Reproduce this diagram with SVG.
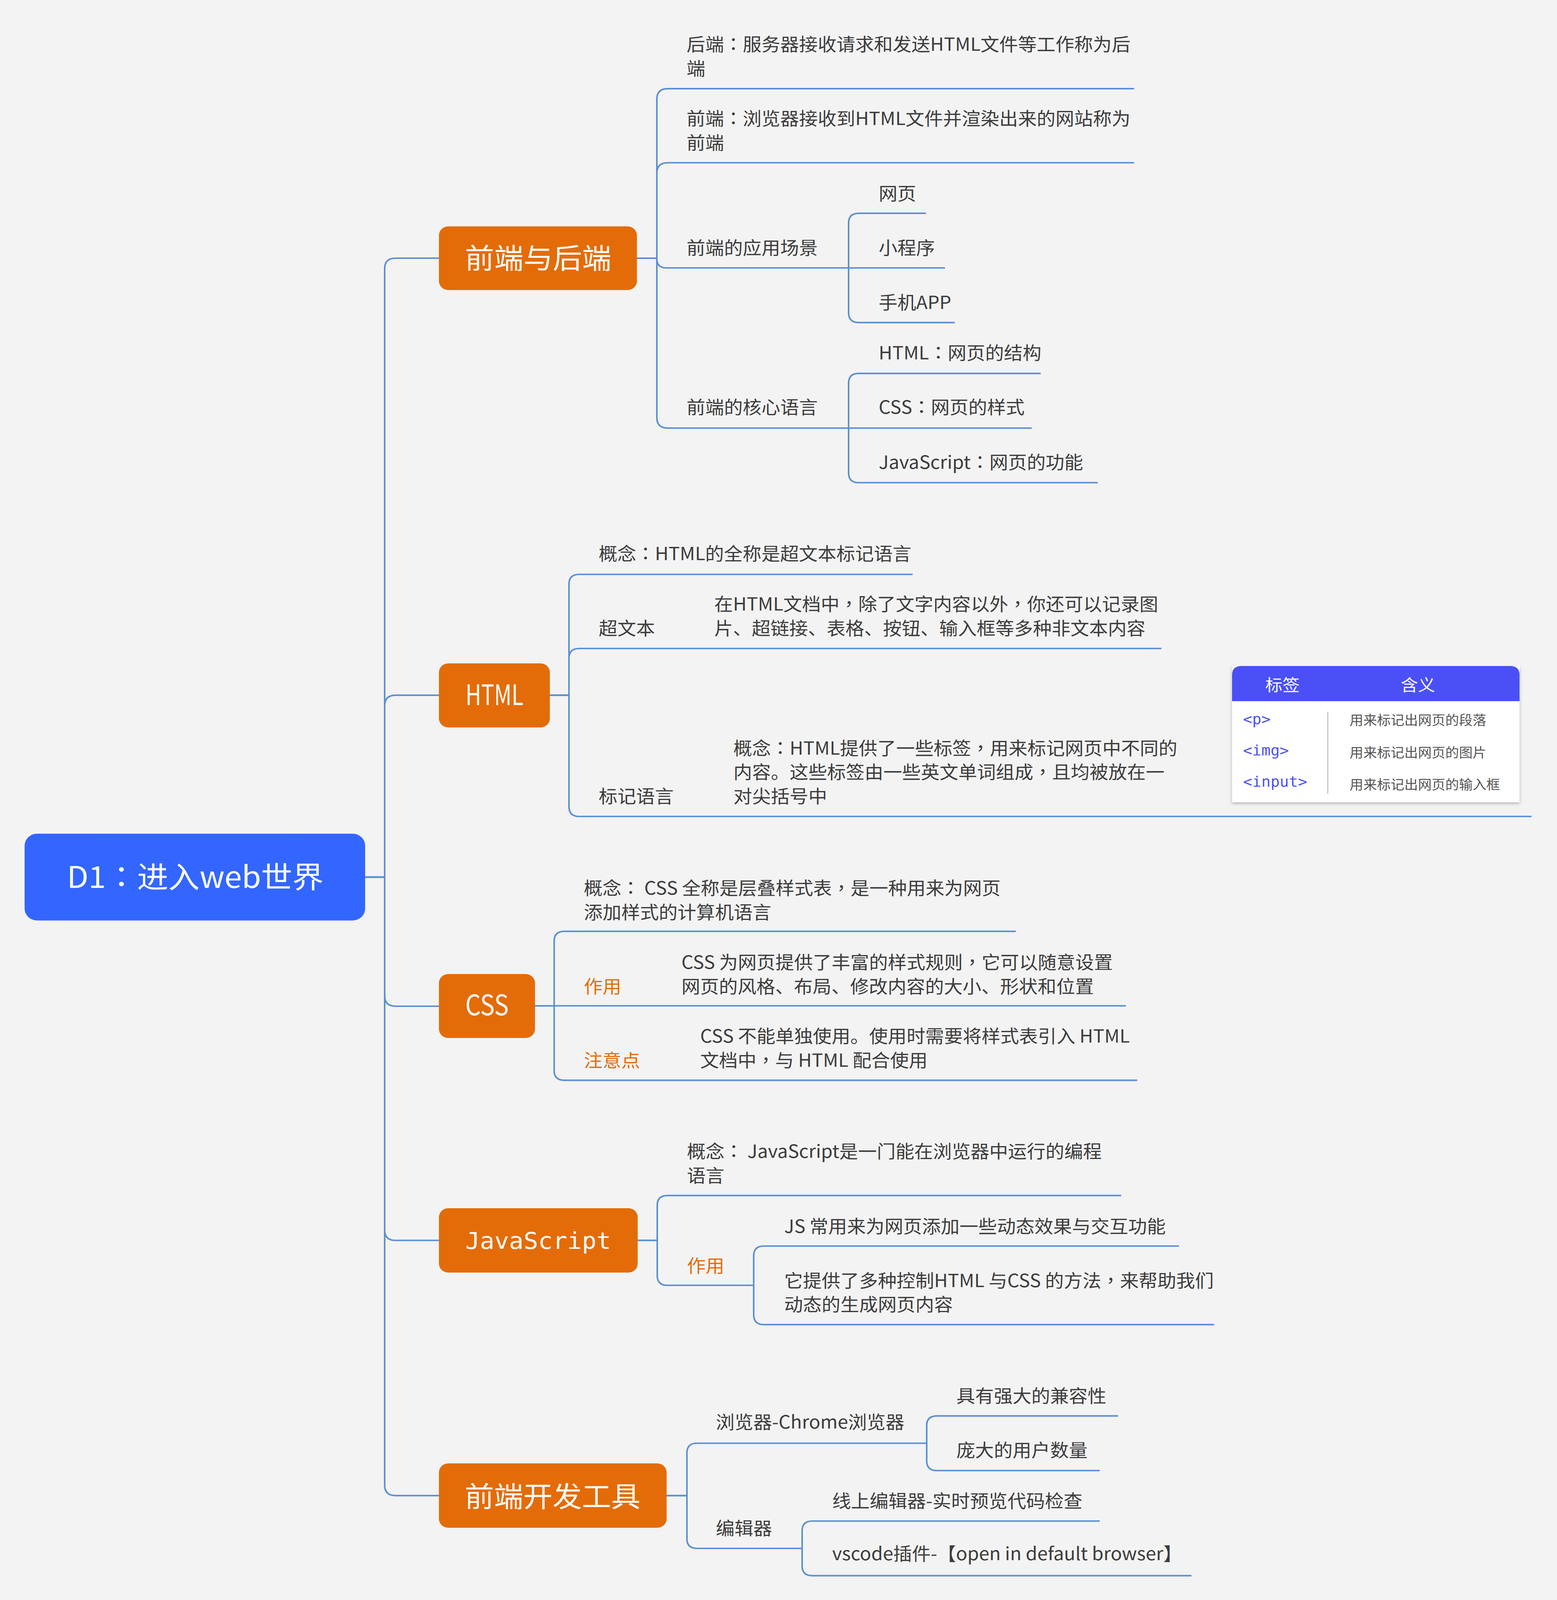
<svg xmlns="http://www.w3.org/2000/svg" width="3987" height="4276" viewBox="0 0 3987 4276" preserveAspectRatio="none">
<defs>
<style>
:root{width:100vw;height:100vh;background:#f3f3f3}
.t{font-family:"Noto Sans CJK SC","Noto Sans",sans-serif;font-size:48px;fill:#3c3c3c}
.p{font-family:"Noto Sans CJK TC","Noto Sans CJK SC",sans-serif}
.o{fill:#e36c09}
.n{font-family:"Noto Sans CJK SC","Noto Sans",sans-serif;font-size:75px;fill:#ffffff;text-anchor:middle}
.ln{fill:none;stroke:#5a8fd6;stroke-width:4}
.box{fill:#e36c09}
.th{font-family:"Noto Sans CJK SC","Noto Sans",sans-serif;font-size:44px;fill:#ffffff;text-anchor:middle}
.tg{font-family:"DejaVu Sans Mono","Liberation Mono",monospace;font-size:39px;fill:#4a50f6}
.tm{font-family:"Noto Sans CJK SC","Noto Sans",sans-serif;font-size:35px;fill:#555555}
</style>
<filter id="sh" x="-5%" y="-5%" width="110%" height="115%">
<feDropShadow dx="0" dy="4" stdDeviation="4" flood-color="#000" flood-opacity="0.25"/>
</filter>
</defs>
<rect x="0" y="0" width="3987" height="4276" fill="#f3f3f3"/>

<g id="connectors">
<path class="ln" d="M935,2344 H985 V718 Q985,690 1013,690 H1124"/>
<path class="ln" d="M935,2344 H985 V1886 Q985,1858 1013,1858 H1124"/>
<path class="ln" d="M935,2344 H985 V2661 Q985,2689 1013,2689 H1124"/>
<path class="ln" d="M935,2344 H985 V3287 Q985,3315 1013,3315 H1124"/>
<path class="ln" d="M935,2344 H985 V3969 Q985,3997 1013,3997 H1124"/>

<path class="ln" d="M1631,690 H1682 V265 Q1682,237 1710,237 H2904"/>
<path class="ln" d="M1631,690 H1682 V463 Q1682,435 1710,435 H2904"/>
<path class="ln" d="M1631,690 H1682 V692 Q1682,716 1706,716 H2173"/>
<path class="ln" d="M1631,690 H1682 V1116 Q1682,1144 1710,1144 H2173"/>
<path class="ln" d="M2173,716 V596 Q2173,570 2199,570 H2371"/>
<path class="ln" d="M2173,716 H2420"/>
<path class="ln" d="M2173,716 V836 Q2173,862 2199,862 H2445"/>
<path class="ln" d="M2173,1144 V1024 Q2173,998 2199,998 H2665"/>
<path class="ln" d="M2173,1144 H2642"/>
<path class="ln" d="M2173,1144 V1264 Q2173,1290 2199,1290 H2811"/>

<path class="ln" d="M1408,1858 H1457 V1561 Q1457,1535 1483,1535 H2337"/>
<path class="ln" d="M1408,1858 H1457 V1759 Q1457,1733 1483,1733 H2974"/>
<path class="ln" d="M1408,1858 H1457 V2156 Q1457,2182 1483,2182 H3922"/>

<path class="ln" d="M1370,2688 H1419 V2515 Q1419,2489 1445,2489 H2601"/>
<path class="ln" d="M1370,2688 H2883"/>
<path class="ln" d="M1370,2688 H1419 V2861 Q1419,2887 1445,2887 H2912"/>

<path class="ln" d="M1633,3315 H1683 V3221 Q1683,3195 1709,3195 H2871"/>
<path class="ln" d="M1633,3315 H1683 V3409 Q1683,3435 1709,3435 H1930"/>
<path class="ln" d="M1930,3435 V3356 Q1930,3330 1956,3330 H3019"/>
<path class="ln" d="M1930,3435 V3514 Q1930,3540 1956,3540 H3109"/>

<path class="ln" d="M1706,3997 H1759 V3883 Q1759,3857 1785,3857 H2373"/>
<path class="ln" d="M1706,3997 H1759 V4112 Q1759,4138 1785,4138 H2054"/>
<path class="ln" d="M2373,3857 V3810 Q2373,3784 2399,3784 H2863"/>
<path class="ln" d="M2373,3857 V3904 Q2373,3930 2399,3930 H2816"/>
<path class="ln" d="M2054,4138 V4091 Q2054,4065 2080,4065 H2816"/>
<path class="ln" d="M2054,4138 V4185 Q2054,4211 2080,4211 H3051"/>
</g>

<g id="root">
<rect x="63" y="2228" width="872" height="232" rx="32" fill="#3366ff"/>
<text class="n" x="500" y="2373" style="font-size:80px">D1<tspan class="p">：</tspan>进入web世界</text>
</g>

<g id="node-frontback">
<rect class="box" x="1124" y="605" width="507" height="170" rx="24"/>
<text class="n" x="1378" y="717">前端与后端</text>
</g>
<g id="node-html">
<rect class="box" x="1124" y="1773" width="284" height="171" rx="24"/>
<text class="n" x="1266" y="1884" textLength="148" lengthAdjust="spacingAndGlyphs">HTML</text>
</g>
<g id="node-css">
<rect class="box" x="1124" y="2603" width="246" height="171" rx="24"/>
<text class="n" x="1247" y="2713" textLength="111" lengthAdjust="spacingAndGlyphs">CSS</text>
</g>
<g id="node-js">
<rect class="box" x="1124" y="3229" width="509" height="172" rx="24"/>
<text class="n" x="1378" y="3338" style="font-family:'DejaVu Sans Mono','Liberation Mono',monospace;font-size:62px">JavaScript</text>
</g>
<g id="node-tools">
<rect class="box" x="1124" y="3911" width="583" height="172" rx="24"/>
<text class="n" x="1415" y="4026">前端开发工具</text>
</g>

<g id="t-backend"><text class="t" x="1758" y="136">后端<tspan class="p">：</tspan>服务器接收请求和发送HTML文件等工作称为后</text><text class="t" x="1758" y="200">端</text></g>
<g id="t-frontend"><text class="t" x="1758" y="334">前端<tspan class="p">：</tspan>浏览器接收到HTML文件并渲染出来的网站称为</text><text class="t" x="1758" y="399">前端</text></g>
<g id="t-scene"><text class="t" x="1758" y="680">前端的应用场景</text></g>
<g id="t-web"><text class="t" x="2250" y="534">网页</text></g>
<g id="t-mini"><text class="t" x="2250" y="680">小程序</text></g>
<g id="t-app"><text class="t" x="2250" y="826">手机APP</text></g>
<g id="t-core"><text class="t" x="1758" y="1106">前端的核心语言</text></g>
<g id="t-core-html"><text class="t" x="2250" y="960">HTML<tspan class="p">：</tspan>网页的结构</text></g>
<g id="t-core-css"><text class="t" x="2250" y="1106">CSS<tspan class="p">：</tspan>网页的样式</text></g>
<g id="t-core-js"><text class="t" x="2250" y="1253">JavaScript<tspan class="p">：</tspan>网页的功能</text></g>

<g id="t-html-concept"><text class="t" x="1533" y="1497">概念<tspan class="p">：</tspan>HTML的全称是超文本标记语言</text></g>
<g id="t-hypertext"><text class="t" x="1533" y="1696">超文本</text></g>
<g id="t-hypertext-desc"><text class="t" x="1829" y="1632">在HTML文档中<tspan class="p">，</tspan>除了文字内容以外<tspan class="p">，</tspan>你还可以记录图</text><text class="t" x="1829" y="1696">片、超链接、表格、按钮、输入框等多种非文本内容</text></g>
<g id="t-markup"><text class="t" x="1533" y="2145">标记语言</text></g>
<g id="t-markup-desc"><text class="t" x="1878" y="2017">概念<tspan class="p">：</tspan>HTML提供了一些标签<tspan class="p">，</tspan>用来标记网页中不同的</text><text class="t" x="1878" y="2081">内容。这些标签由一些英文单词组成<tspan class="p">，</tspan>且均被放在一</text><text class="t" x="1878" y="2145">对尖括号中</text></g>

<g id="table">
<rect x="3155" y="1780" width="736" height="364" fill="#ffffff" filter="url(#sh)"/>
<path d="M3155,1874 V1804 Q3155,1780 3179,1780 H3867 Q3891,1780 3891,1804 V1874 Z" fill="#4a50f6"/>
<text class="th" x="3284" y="1847">标签</text>
<text class="th" x="3631" y="1847">含义</text>
<line x1="3400" y1="1902" x2="3400" y2="2122" stroke="#c8c8c8" stroke-width="3"/>
<text class="tg" x="3183" y="1935">&lt;p&gt;</text>
<text class="tg" x="3183" y="2019">&lt;img&gt;</text>
<text class="tg" x="3183" y="2103">&lt;input&gt;</text>
<text class="tm" x="3456" y="1938">用来标记出网页的段落</text>
<text class="tm" x="3456" y="2024">用来标记出网页的图片</text>
<text class="tm" x="3456" y="2110">用来标记出网页的输入框</text>
</g>

<g id="t-css-concept"><text class="t" x="1495" y="2391">概念<tspan class="p">：</tspan> CSS 全称是层叠样式表<tspan class="p">，</tspan>是一种用来为网页</text><text class="t" x="1495" y="2455">添加样式的计算机语言</text></g>
<g id="t-css-use"><text class="t o" x="1495" y="2654">作用</text></g>
<g id="t-css-use-desc"><text class="t" x="1745" y="2589">CSS 为网页提供了丰富的样式规则<tspan class="p">，</tspan>它可以随意设置</text><text class="t" x="1745" y="2654">网页的风格、布局、修改内容的大小、形状和位置</text></g>
<g id="t-css-note"><text class="t o" x="1495" y="2851">注意点</text></g>
<g id="t-css-note-desc"><text class="t" x="1793" y="2786">CSS 不能单独使用。使用时需要将样式表引入 HTML</text><text class="t" x="1793" y="2851">文档中<tspan class="p">，</tspan>与 HTML 配合使用</text></g>

<g id="t-js-concept"><text class="t" x="1759" y="3094">概念<tspan class="p">：</tspan> JavaScript是一门能在浏览器中运行的编程</text><text class="t" x="1759" y="3159">语言</text></g>
<g id="t-js-use"><text class="t o" x="1759" y="3400">作用</text></g>
<g id="t-js-use1"><text class="t" x="2008" y="3295">JS 常用来为网页添加一些动态效果与交互功能</text></g>
<g id="t-js-use2"><text class="t" x="2008" y="3440">它提供了多种控制HTML 与CSS 的方法<tspan class="p">，</tspan>来帮助我们</text><text class="t" x="2008" y="3503">动态的生成网页内容</text></g>

<g id="t-browser"><text class="t" x="1833" y="3818">浏览器-Chrome浏览器</text></g>
<g id="t-compat"><text class="t" x="2449" y="3748">具有强大的兼容性</text></g>
<g id="t-users"><text class="t" x="2449" y="3893">庞大的用户数量</text></g>
<g id="t-editor"><text class="t" x="1833" y="4102">编辑器</text></g>
<g id="t-online"><text class="t" x="2131" y="4029">线上编辑器-实时预览代码检查</text></g>
<g id="t-vscode"><text class="t" x="2131" y="4170">vscode插件-【open in default browser】</text></g>
</svg>
